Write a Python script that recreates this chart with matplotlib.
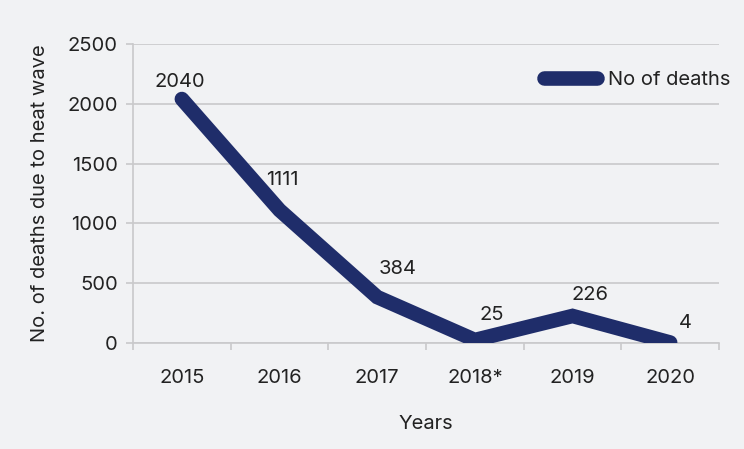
import matplotlib
matplotlib.use("Agg")
import matplotlib.pyplot as plt
from matplotlib.ticker import FixedLocator, NullFormatter

years = ["2015", "2016", "2017", "2018*", "2019", "2020"]
deaths = [2040, 1111, 384, 25, 226, 4]
series_name = "No of deaths"
y_ticks = [0, 500, 1000, 1500, 2000, 2500]

plt.rcParams['font.family'] = ['Inter', 'DejaVu Sans']
bg = "#f1f2f4"
navy = "#1f2d6a"
txt = "#222222"
grid = "#c9c9cb"
fs = 14.5

fig = plt.figure(figsize=(7.44, 4.49), dpi=100, facecolor=bg)
ax = fig.add_axes([0.1788, 0.2361, 0.7876, 0.6659], facecolor=bg)

x = list(range(len(years)))
ax.plot(x, deaths, color=navy, lw=10.5, solid_capstyle='round', solid_joinstyle='miter',
        label=series_name, zorder=3)

offsets = [(-2, 17), (3, 30), (20, 28), (17, 25), (17, 21), (15, 20)]
for xi, v, off in zip(x, deaths, offsets):
    ax.annotate(str(v), (xi, v), xytext=off, textcoords='offset pixels',
                ha='center', va='center', fontsize=fs, color=txt, zorder=4)

ax.set_xlim(-0.5, len(years) - 0.5)
ax.set_ylim(0, 2500)
ax.set_yticks(y_ticks)
ax.set_yticklabels([str(t) for t in y_ticks], fontsize=fs, color=txt)
ax.yaxis.grid(True, color=grid, lw=1.2)
ax.set_axisbelow(True)

ax.set_xticks(x)
ax.set_xticklabels(years, fontsize=fs, color=txt)
ax.tick_params(axis='x', which='major', length=0, pad=19)
ax.xaxis.set_minor_locator(FixedLocator([i - 0.5 for i in range(len(years) + 1)]))
ax.xaxis.set_minor_formatter(NullFormatter())
ax.tick_params(axis='x', which='minor', length=5, color=grid, width=1.2)
ax.tick_params(axis='y', length=5, color=grid, width=1.2, pad=6)

for s in ['top', 'right']:
    ax.spines[s].set_visible(False)
for s in ['left', 'bottom']:
    ax.spines[s].set_color(grid)
    ax.spines[s].set_linewidth(1.2)

ax.set_xlabel("Years", fontsize=fs, color=txt, labelpad=20)
ax.set_ylabel("No. of deaths due to heat wave", fontsize=fs, color=txt, labelpad=13)

leg = ax.legend(loc='upper right', bbox_to_anchor=(1.05, 0.97), frameon=False,
                fontsize=fs, handlelength=2.6, handletextpad=0.55, labelcolor=txt)

fig.savefig("out.png", dpi=100, facecolor=bg)
